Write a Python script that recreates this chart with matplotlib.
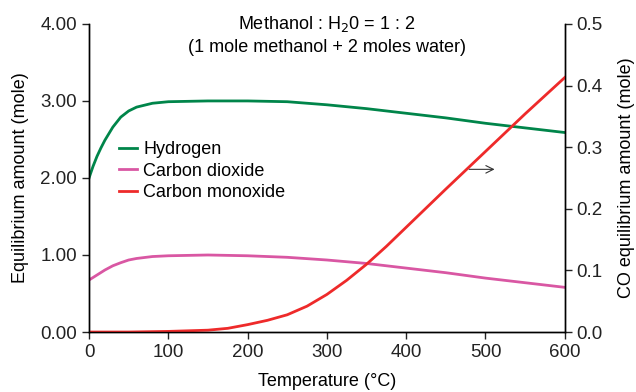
import matplotlib
matplotlib.use('Agg')
import matplotlib.pyplot as plt
import numpy as np

plt.rcParams['font.family'] = ['Liberation Sans', 'DejaVu Sans']
plt.rcParams['font.size'] = 13.5

# values
temp_h2 = [0, 5, 10, 15, 20, 30, 40, 50, 60, 80, 100, 150, 200, 250, 300, 350, 400, 450, 500, 550, 600]
hydrogen = [2.0, 2.15, 2.28, 2.39, 2.49, 2.66, 2.79, 2.87, 2.92, 2.97, 2.99, 3.0, 3.0, 2.99, 2.95, 2.90, 2.84, 2.78, 2.71, 2.65, 2.59]

temp_co2 = [0, 10, 20, 30, 40, 50, 60, 80, 100, 150, 200, 250, 300, 350, 400, 450, 500, 550, 600]
carbon_dioxide = [0.675, 0.74, 0.805, 0.86, 0.90, 0.935, 0.955, 0.98, 0.99, 1.0, 0.99, 0.97, 0.935, 0.89, 0.83, 0.77, 0.70, 0.64, 0.58]

temp_co = [0, 50, 100, 150, 175, 200, 225, 250, 275, 300, 325, 350, 375, 400, 450, 500, 550, 600]
carbon_monoxide = [0.0, 0.0, 0.001, 0.003, 0.006, 0.012, 0.019, 0.028, 0.042, 0.061, 0.084, 0.110, 0.139, 0.170, 0.232, 0.293, 0.354, 0.413]

fig = plt.figure(figsize=(6.36, 3.92), dpi=100)
ax = fig.add_axes([0.140, 0.153, 0.748, 0.786])
ax2 = ax.twinx()

h1, = ax.plot(temp_h2, hydrogen, color='#00854a', lw=2, label='Hydrogen')
h2, = ax.plot(temp_co2, carbon_dioxide, color='#d957a3', lw=2, label='Carbon dioxide')
h3, = ax2.plot(temp_co, carbon_monoxide, color='#ee2a2a', lw=2, label='Carbon monoxide')

ax.set_xlim(0, 600)
ax.set_ylim(0, 4)
ax2.set_ylim(0, 0.5)
ax.set_xticks(np.arange(0, 601, 100))
ax.set_yticks(np.arange(0, 4.01, 1))
ax.set_yticklabels([f'{v:.2f}' for v in np.arange(0, 4.01, 1)])
ax2.set_yticks(np.arange(0, 0.51, 0.1))
ax2.set_yticklabels([f'{v:.1f}' for v in np.arange(0, 0.51, 0.1)])

for a in (ax, ax2):
    a.spines['top'].set_visible(False)
    a.tick_params(direction='out', length=5, width=1, colors='#222222', labelsize=13.5)
    for s in a.spines.values():
        s.set_linewidth(1)

ax.set_xlabel('Temperature (°C)', labelpad=9, fontsize=13)
ax.set_ylabel('Equilibrium amount (mole)', labelpad=8, fontsize=13)
ax2.set_ylabel('CO equilibrium amount (mole)', labelpad=11, fontsize=13)

ax.text(0.5, 0.999, 'Methanol : H$_2$0 = 1 : 2', transform=ax.transAxes,
        ha='center', va='center', fontsize=13)
ax.text(0.5, 0.925, '(1 mole methanol + 2 moles water)', transform=ax.transAxes,
        ha='center', va='center', fontsize=13)

ax.legend(handles=[h1, h2, h3], loc='upper left', bbox_to_anchor=(0.063, 0.62),
          frameon=False, handlelength=1.0, handletextpad=0.35, labelspacing=0.25,
          borderaxespad=0, borderpad=0, fontsize=13)

ax2.annotate('', xy=(515, 0.264), xytext=(476, 0.264),
             arrowprops=dict(arrowstyle='->', color='#333333', lw=0.8))

fig.savefig('out.png', dpi=100)
